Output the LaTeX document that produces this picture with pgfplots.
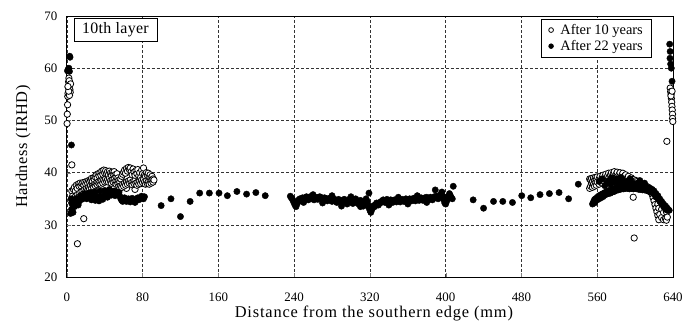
\documentclass[border=0pt]{standalone}
\usepackage{pgfplots}
\pgfplotsset{compat=1.18}
\usepackage{fontspec}
\setmainfont{Liberation Serif}
\begin{document}
\begin{tikzpicture}
\begin{axis}[
  scale only axis,
  width=608bp, height=262bp,
  xmin=0, xmax=640, ymin=20, ymax=70,
  xtick={0,80,...,640}, ytick={20,30,...,70},
  xtick pos=bottom, ytick pos=left,
  tick align=inside,
  major tick length=4bp,
  axis line style={line width=0.9bp},
  grid=major,
  major grid style={dash pattern=on 3bp off 2bp, black!80, line width=0.6bp},
  /pgf/number format/assume math mode=true,
  ticklabel style={font=\fontsize{13}{15}\selectfont},
  xticklabel style={anchor=center, yshift=-20bp},
  yticklabel style={xshift=-6bp},
  xlabel={Distance from the southern edge (mm)},
  ylabel={Hardness (IRHD)},
  xlabel style={font=\fontsize{16.5}{18}\selectfont\addfontfeatures{LetterSpace=5}, at={(rel axis cs:0.5,0)}, anchor=base, xshift=4bp, yshift=-40bp},
  ylabel style={font=\fontsize{16.5}{18}\selectfont\addfontfeatures{LetterSpace=3}, yshift=7bp},
  clip=false,
  legend cell align=left,
  legend style={at={(rel axis cs:0.9655,0.9885)}, anchor=north east, draw=black, line width=0.6bp,
    font=\fontsize{14.5}{17}\selectfont, inner xsep=7bp, inner ysep=3bp, row sep=0.5bp,
    /tikz/every odd column/.append style={column sep=5bp}},
  legend image code/.code={\draw[#1, mark size=2.4pt] plot coordinates {(0.15cm,0cm)};},
]
\addplot[only marks, mark=*, mark size=3.2pt, mark options={draw=black, fill=white, line width=0.8bp}] coordinates {
(0.3,49.4) (0.5,51.2) (0.8,53.0) (1.0,54.6) (1.3,55.2) (1.6,56.3) (1.9,57.4) (2.2,58.1) (2.6,57.6) (3.0,56.8) (3.3,55.9) (3.6,55.4) (4.0,57.0) (2.8,54.8) (2.0,55.6) (1.2,56.5)
(5.3,41.5) (5.3,36.5) (5.8,35.0) (6.3,34.3) (6.8,33.8) (11.2,26.4) (17.9,31.2)
(8,33.6) (10,33.9) (12,34.2) (50,37.0) (72,36.8) (55,36.5) (63,37.0)
(6,34.6) (6,35.5) (7,35.0) (7,36.8) (8,34.2) (8,37.2) (9,35.4) (9,36.5) (10,34.8) (10,37.6)
(11,35.8) (11,37.0) (12,35.2) (12,37.8) (13,36.0) (13,37.4) (14,35.5) (14,38.0) (15,36.3) (15,37.5)
(16,35.8) (16,37.9) (17,36.5) (17,38.1) (18,36.0) (18,37.6) (19,36.8) (19,38.2) (20,36.4) (20,37.8)
(21,37.0) (21,38.3) (22,36.6) (22,38.0) (23,37.2) (23,38.5) (24,36.9) (24,38.2) (25,37.5) (25,38.6)
(26,37.0) (26,38.9) (27,37.6) (27,38.4) (28,37.3) (28,39.0) (29,37.8) (29,38.7) (30,37.5) (30,39.2)
(31,38.0) (31,39.6) (32,37.7) (32,39.0) (33,38.2) (33,39.8) (34,37.9) (34,39.4) (35,38.3) (35,40.0)
(36,37.8) (36,39.5) (37,38.5) (37,40.3) (38,38.0) (38,39.7) (39,38.6) (39,40.5) (40,38.2) (40,39.9)
(41,38.8) (41,40.4) (42,38.3) (42,39.8) (43,38.7) (43,40.2) (44,38.2) (44,39.6) (45,38.9) (45,40.3)
(46,38.4) (46,39.9) (47,38.0) (47,39.5) (48,38.6) (48,40.1) (49,38.2) (49,39.7) (50,38.8) (50,40.2)
(51,38.3) (51,39.6) (52,37.8) (52,39.2) (53,38.4) (53,39.8) (54,37.9) (54,39.0) (55,37.4) (55,38.6)
(56,37.0) (56,38.2) (57,37.5) (57,38.8) (58,37.2) (58,39.3) (59,37.8) (59,39.7) (60,37.4) (60,40.1)
(61,38.0) (61,40.5) (62,37.6) (62,39.9) (63,38.2) (63,40.8) (64,37.8) (64,40.3) (65,38.4) (65,41.0)
(66,38.0) (66,40.6) (67,38.6) (67,40.9) (68,38.1) (68,40.2) (69,37.7) (69,39.6) (70,38.3) (70,40.7)
(71,37.9) (71,40.1) (72,38.5) (72,39.5) (73,38.0) (73,40.4) (74,37.6) (74,39.8) (75,38.2) (75,40.6)
(76,37.8) (76,39.4) (77,38.4) (77,40.0) (78,37.9) (78,39.1) (79,38.6) (79,40.5) (80,38.1) (80,39.8)
(81,38.7) (81,40.9) (82,38.2) (82,39.6) (83,37.8) (83,39.3) (84,38.4) (84,40.0) (85,37.9) (85,39.5)
(86,38.3) (86,39.9) (87,37.8) (87,39.2) (88,38.5) (88,39.6) (89,38.0) (89,39.0) (90,38.6) (90,39.3)
(91,38.2) (91,38.8) (92,38.6)
(552,37.0) (552,38.8) (553,37.4) (553,38.6) (554,38.0) (554,38.9) (555,37.2) (555,38.3) (556,37.8) (556,39.0)
(557,37.4) (557,38.5) (558,38.1) (558,39.1) (559,37.6) (559,38.7) (560,38.2) (560,39.2)
(562,37.8) (562,38.8) (563,38.4) (563,39.3) (565,38.0) (565,39.0) (566,38.6) (566,39.5)
(568,38.2) (568,39.2) (569,38.8) (569,39.7) (571,38.4) (571,39.4) (572,38.9) (572,39.9)
(574,38.5) (574,39.6) (575,39.0) (575,40.0) (577,38.6) (577,39.8) (578,39.1) (578,40.2)
(580,38.7) (580,39.7) (581,39.2) (581,40.1) (583,38.8) (583,39.6) (584,39.0) (584,40.0)
(586,38.6) (586,39.5) (587,38.9) (587,39.9) (589,38.4) (589,39.4) (590,38.7) (590,39.6)
(592,38.2) (592,39.1) (593,38.5) (593,39.3) (595,38.0) (595,38.9) (596,38.3) (596,39.0)
(598,37.8) (598,38.7) (598,35.3) (599,27.5) (599,38.2) (601,37.6) (601,38.5) (602,37.9) (602,38.3)
(604,37.4) (604,38.1) (605,37.7) (605,38.0) (607,37.2) (607,37.9) (608,37.5) (608,37.8)
(610,37.0) (610,37.6) (612,36.8) (612,37.4) (614,36.6) (614,37.2) (616,36.3) (616,36.9)
(618,35.8) (618,36.5) (619,35.2) (620,34.6) (620,36.0) (621,33.9) (622,33.2) (622,35.4) (623,32.5)
(624,31.8) (624,34.0) (625,31.0) (625,33.2) (626,32.0) (628,31.4) (628,33.0) (630,31.0) (630,32.4)
(632,31.2) (632,33.6) (633,30.9) (633,32.5) (634,31.5)
(633.5,46.0) (637,56.2) (637.5,55.5) (638,55.0) (638.3,54.2) (638.6,53.5) (638.9,52.7) (639.2,52.0) (639.5,51.2) (639.5,50.4) (639.8,49.8) (637.8,54.7) (639,55.6)
};
\addlegendentry{After 10 years}
\addplot[only marks, mark=*, mark size=3.2pt, mark options={draw=black, fill=black}] coordinates {
(0.7,59.5) (1.5,59.8) (2.2,60.0) (3.0,62.3) (3.4,62.1) (2.8,59.4) (4.9,45.3) (4.5,35.0) (5.0,34.2) (4.0,32.2) (6.6,32.4)
(5,33.0) (6,34.0) (7,34.8) (8,33.5) (9,34.2) (10,35.0) (11,34.5) (12,33.8) (13,34.6) (14,35.2)
(15,35.5) (16,34.9) (17,35.3) (18,35.7) (19,36.0) (20,35.4) (21,35.0) (22,35.6) (23,36.1) (24,35.8)
(25,35.2) (26,34.8) (27,35.1) (28,35.5) (29,35.0) (30,34.7) (31,35.0) (32,35.4) (33,35.0) (34,34.6)
(35,35.0) (36,35.5) (37,35.2) (38,34.9) (39,35.3) (40,35.7) (41,36.0) (42,35.6) (43,35.3) (44,35.8)
(45,36.2) (46,36.0) (47,35.7) (48,36.1) (49,36.4) (50,36.0) (51,35.6) (52,36.0) (53,36.3) (54,35.9)
(55,36.2) (56,35.5) (57,35.0) (58,34.7) (59,34.5) (60,34.9) (61,35.2) (62,34.8) (63,34.5) (64,34.7)
(65,35.0) (66,34.6) (67,34.4) (68,34.8) (69,35.1) (70,34.9) (71,34.6) (72,34.3) (73,34.7) (74,35.0)
(75,35.2) (76,34.8) (77,35.0) (78,35.3) (79,35.5) (80,35.2) (81,35.0) (82,35.4)
(30,36.3) (35,36.5) (40,36.6) (45,36.8) (50,36.5) (25,36.2)
(99.6,33.7) (110,35.0) (120,31.6) (130.2,34.5) (140.3,36.1) (150.5,36.1) (160.7,36.1) (169.5,35.6) (179.6,36.4) (189.8,35.9) (199.6,36.2) (209.5,35.6)
(236,35.5) (237,35.2) (238,35.0) (239,34.6) (240,34.2) (241,33.8) (242,33.5) (243,34.0) (244,34.5) (245,34.8)
(246,35.0) (247,34.6) (248,34.9) (249,35.2) (250,35.0) (251,34.7) (252,35.1) (253,35.4) (254,35.2) (255,34.8)
(256,35.0) (257,35.3) (258,35.5) (259,35.2) (260,35.0) (261,34.8) (262,35.1) (263,35.3) (264,35.0) (265,34.9)
(266,35.2) (267,35.4) (268,35.3) (269,35.0) (270,34.8) (271,35.0) (272,35.2) (273,35.1) (274,34.8) (275,34.6)
(276,34.9) (277,35.1) (278,35.0) (279,34.7) (280,34.5) (281,34.8) (282,35.0) (283,34.8) (284,34.5) (285,34.3)
(286,34.6) (287,34.9) (288,34.7) (289,34.4) (290,34.2) (291,34.5) (292,34.8) (293,34.9) (294,34.6) (295,34.3)
(296,34.0) (297,34.4) (298,34.8) (299,35.0) (300,34.7) (301,34.3) (302,34.1) (303,34.5) (304,34.9) (305,35.0)
(306,34.6) (307,34.2) (308,34.0) (309,34.4) (310,34.7) (311,34.3) (312,33.8) (313,33.6) (314,34.1) (315,34.6)
(316,35.0) (317,34.5) (318,33.9) (319,33.3) (320,32.8) (321,32.4) (322,32.9) (323,33.3) (324,33.7) (325,33.5)
(326,33.9) (327,34.2) (328,34.0) (329,33.8) (330,34.1) (331,34.4) (332,34.3) (333,34.6) (334,34.8) (335,34.5)
(336,34.3) (337,34.6) (338,34.9) (339,34.7) (340,34.4) (341,34.6) (342,34.8) (343,34.5) (344,34.3) (345,34.6)
(346,34.8) (347,34.6) (348,34.4) (349,34.7) (350,34.9) (351,34.6) (352,34.4) (353,34.7) (354,34.9) (355,34.7)
(356,34.5) (357,34.8) (358,35.0) (359,34.7) (360,34.5) (361,34.8) (362,35.0) (363,34.8) (364,34.6) (365,34.9)
(366,35.1) (367,34.8) (368,34.6) (369,34.9) (370,35.1) (371,34.9) (372,34.7) (373,35.0) (374,35.2) (375,34.9)
(376,34.7) (377,35.0) (378,35.2) (379,35.0) (380,35.3) (381,35.0) (382,34.8) (383,35.1) (384,35.3) (385,35.0)
(386,34.8) (387,35.1) (388,35.4) (389,35.2) (390,35.5) (391,35.2) (392,35.0) (393,35.3) (394,35.6) (395,35.9)
(396,36.3) (397,35.5) (398,34.8) (399,34.2) (400,34.0) (401,34.5) (402,35.0) (403,35.5) (404,36.0) (405,35.6) (406,35.2) (407,35.0)
(319,36.1) (389,36.7) (408,37.4) (429,34.8) (440,33.2)
(250,34.3) (270,34.2) (290,33.6) (310,33.5) (340,33.8) (360,34.0) (380,34.3) (260,35.8) (280,35.6) (300,35.4) (350,35.3) (370,35.6)
(450.5,34.5) (460.3,34.5) (470.5,34.3) (480.3,35.6) (489.8,35.2) (499.6,35.8) (509.5,36.0) (519.7,36.2) (529.8,35.0) (540,37.8)
(555,34.0) (556,34.4) (557,34.8) (557,34.2) (558,35.0) (558,34.5) (560,35.3) (560,34.8) (562,35.6) (562,35.0)
(564,35.8) (564,35.2) (566,36.0) (566,35.4) (568,36.2) (568,35.7) (568,37.5) (570,36.4) (570,35.9) (570,38.0)
(572,36.5) (572,36.0) (572,38.5) (574,36.7) (574,36.1) (574,37.8) (576,36.8) (576,36.3) (576,38.6)
(578,37.0) (578,36.4) (578,38.2) (580,37.1) (580,36.6) (580,38.8) (582,37.2) (582,36.7) (582,38.0)
(584,37.3) (584,36.8) (584,38.5) (586,37.4) (586,36.9) (586,37.9) (588,37.4) (588,36.9) (588,38.4)
(590,37.5) (590,37.0) (590,38.0) (592,37.5) (592,37.0) (592,38.3) (594,37.4) (594,36.9) (594,37.8)
(596,37.5) (596,37.0) (596,38.1) (598,37.4) (598,36.9) (600,37.5) (600,37.0) (600,37.9)
(602,37.4) (602,36.9) (604,37.4) (604,36.8) (604,37.8) (606,37.3) (606,36.8) (608,37.3) (608,36.7)
(610,37.2) (610,36.7) (612,37.2) (612,36.6) (614,37.1) (614,36.5) (616,37.0) (616,36.4) (618,36.8) (618,36.2)
(620,36.5) (620,35.9) (622,36.0) (622,35.4) (624,35.6) (624,35.0) (626,35.0) (626,34.5) (628,34.5) (628,34.0)
(630,34.0) (630,33.5) (632,33.5) (632,33.0) (634,33.2) (634,32.8) (636,32.8)
(562,38.3) (565,38.8) (575,39.0) (585,39.1) (595,38.8) (605,38.5) (610,38.0)
(636.5,64.6) (637,63.2) (636.8,61.9) (637.5,60.8) (638.2,60.0) (639,57.5)
};
\addlegendentry{After 22 years}
\node[draw=black, line width=0.6bp, anchor=north west, minimum width=83bp, minimum height=23bp,
  inner sep=0pt, font=\fontsize{16}{18}\selectfont\addfontfeatures{LetterSpace=2}, fill=white] at (rel axis cs:0.0115,0.992) {10th layer};
\coordinate (sw) at (rel axis cs:0,0);
\coordinate (ne) at (rel axis cs:1,1);
\end{axis}
\path (sw) ++(-67bp,-48bp) coordinate (a);
\path (ne) ++(11bp,16bp) coordinate (b);
\path (a) rectangle (b);
\end{tikzpicture}
\end{document}
